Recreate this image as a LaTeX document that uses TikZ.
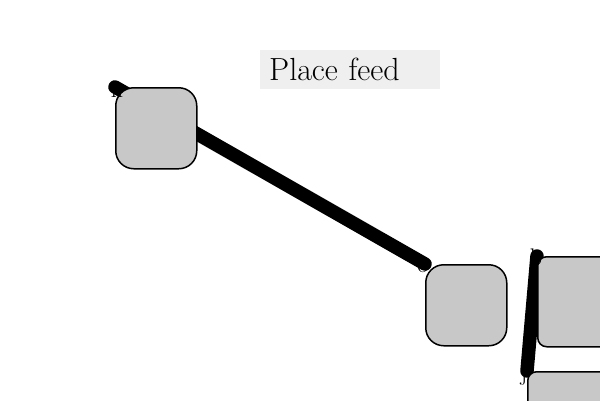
\documentclass[tikz,border=0pt]{standalone}
\usetikzlibrary{positioning}
\pgfdeclarelayer{bg}
\pgfsetlayers{bg,main}
\definecolor{boxgray}{HTML}{C8C8C8}
\definecolor{titlegray}{HTML}{EFEFEF}
\tikzset{
  card/.style={draw=black, line width=1.5pt, fill=boxgray, rounded corners=#1, inner sep=0pt, anchor=north west},
  card/.default=18pt,
  link/.style={line width=13.5pt, line cap=round, black},
  tag/.style={anchor=base, inner sep=0pt, text=black, font=\fontsize{24}{26}\selectfont},
}
\begin{document}
\begin{tikzpicture}[x=1pt,y=-1pt]
\useasboundingbox (0,0) rectangle (600,400);
\clip (0,0) rectangle (600,400);
\node[fill=titlegray, anchor=west, minimum height=39pt, text width=162pt, inner xsep=9pt, inner ysep=0pt, align=left, font=\fontsize{32}{34}\selectfont] (title) at (260,69.5) {Place feed};
\node[card, minimum width=81pt, minimum height=81pt] (n) at (115,87) {};
\node[card, minimum width=81pt, minimum height=81pt] (o) at (425,264) {};
\node[card=9pt, minimum width=100pt, minimum height=90pt] (b) at (537,256) {};
\node[card=9pt, minimum width=100pt, minimum height=60pt] (j) at (527,371) {};
\begin{pgfonlayer}{bg}
\draw[link] (n.north west) -- (o.north west);
\draw[link] (b.north west) -- (j.north west);
\end{pgfonlayer}
\node[tag] (ln) at ([xshift=2pt,yshift=-10pt]n.north west) {n};
\node[tag] (lo) at ([xshift=-2pt,yshift=-8pt]o.north west) {o};
\node[tag] (lb) at ([xshift=-1pt,yshift=-9pt]b.north west) {b};
\node[tag] (lj) at ([xshift=-3pt,yshift=-9pt]j.north west) {j};
\end{tikzpicture}
\end{document}
